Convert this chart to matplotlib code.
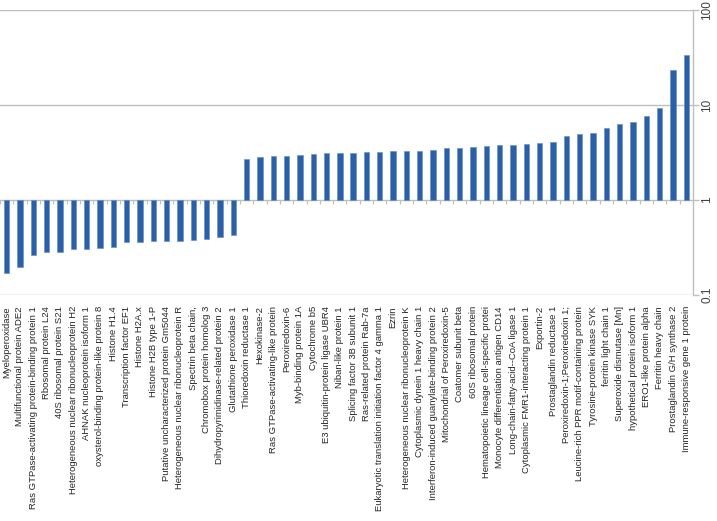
import matplotlib
matplotlib.use("Agg")
import matplotlib.pyplot as plt
from matplotlib.ticker import FixedLocator, FixedFormatter, NullLocator

proteins = [
    "Myeloperoxidase", "Multifunctional protein ADE2",
    "Ras GTPase-activating protein-binding protein 1", "Rbosomal protein L24",
    "40S ribosomal protein S21", "Heterogeneous nuclear ribonucleoprotein H2",
    "AHNAK nucleoprotein isoform 1", "oxysterol-binding protein-like protein 8",
    "Histone H1.4", "Transcription factor EF1", "Histone H2A.x",
    "Histone H2B type 1-P", "Putative uncharacterized protein Gm5044",
    "Heterogeneous nuclear ribonucleoprotein R", "Spectrin beta chain,",
    "Chromobox protein homolog 3", "Dihydropyrimidinase-related protein 2",
    "Glutathione peroxidase 1", "Thioredoxin reductase 1", "Hexokinase-2",
    "Ras GTPase-activating-like protein", "Peroxiredoxin-6",
    "Myb-binding protein 1A", "Cytochrome b5",
    "E3 ubiquitin-protein ligase UBR4", "Niban-like protein 1",
    "Splicing factor 3B subunit 1", "Ras-related protein Rab-7a",
    "Eukaryotic translation initiation factor 4 gamma 1", "Ezrin",
    "Heterogeneous nuclear ribonucleoprotein K",
    "Cytoplasmic dynein 1 heavy chain 1",
    "Interferon-induced guanylate-binding protein 2",
    "Mitochondrial of Peroxiredoxin-5", "Coatomer subunit beta",
    "60S ribosomal protein", "Hematopoietic lineage cell-specific protei",
    "Monocyte differentiation antigen CD14",
    "Long-chain-fatty-acid--CoA ligase 1",
    "Cytoplasmic FMR1-interacting protein 1", "Exportin-2",
    "Prostaglandin reductase 1", "Peroxiredoxin-1;Peroxiredoxin 1;",
    "Leucine-rich PPR motif-containing protein", "Tyrosine-protein kinase SYK",
    "ferritin light chain 1", "Superoxide dismutase [Mn]",
    "hypothetical protein isoform 1", "ERO1-like protein alpha",
    "Ferritin heavy chain", "Prostaglandin G/H synthase 2",
    "Immune-responsive gene 1 protein",
]

fold_change = [
    0.172, 0.199, 0.264, 0.286, 0.286, 0.305, 0.305, 0.315, 0.323, 0.358,
    0.364, 0.370, 0.373, 0.373, 0.376, 0.385, 0.408, 0.425,
    2.70, 2.81, 2.93, 2.93, 2.98, 3.07, 3.10, 3.10, 3.15,
    3.17, 3.17, 3.28, 3.28, 3.28, 3.36, 3.50, 3.50, 3.58, 3.70, 3.82, 3.82,
    3.92, 4.01, 4.08, 4.72, 4.99, 5.11, 5.68, 6.31, 6.57, 7.66, 9.30,
    23.2, 33.9,
]

y_ticks = [0.1, 1, 10, 100]
y_tick_labels = ["0.1", "1", "10", "100"]

label_font = ["Liberation Sans", "DejaVu Sans"]

fig = plt.figure(figsize=(7.17, 5.21), dpi=100)
ax = fig.add_axes([0.0, 1 - 295 / 521, 693 / 717, 285 / 521])

n = len(proteins)
x = list(range(n))
heights = [v - 1 for v in fold_change]
ax.bar(x, heights, bottom=1, width=0.4, color="#2B60A8", edgecolor="#5E8AC6",
       linewidth=0.4, zorder=3)

ax.set_yscale("log")
ax.set_ylim(0.1, 100)
ax.set_xlim(-0.5, n - 0.5)

grid_color = "#BFBFBF"
for s in ["left", "bottom", "top"]:
    ax.spines[s].set_visible(False)
ax.spines["right"].set_color(grid_color)
ax.spines["right"].set_linewidth(1.0)

ax.yaxis.tick_right()
ax.yaxis.set_major_locator(FixedLocator(y_ticks))
ax.yaxis.set_major_formatter(FixedFormatter(y_tick_labels))
ax.yaxis.set_minor_locator(NullLocator())
ax.tick_params(axis="y", which="major", length=4, color=grid_color, width=1,
               pad=2, labelsize=8.5, labelcolor="#404040")
for lab in ax.get_yticklabels():
    lab.set_rotation(90)
    lab.set_va("center")
    lab.set_ha("left")
    lab.set_family(label_font)

for yv in [0.1, 10, 100]:
    ax.axhline(yv, color=grid_color, linewidth=1.0, zorder=1)

ax.set_xticks(x)
ax.set_xticklabels(proteins, rotation=90, fontsize=6.8, color="#262626",
                   family=label_font)
ax.tick_params(axis="x", length=0, pad=8)

sec = ax.secondary_xaxis(1 / 3)
sec.set_xticks([i + 0.5 for i in range(-1, n)])
sec.set_xticklabels([])
sec.tick_params(axis="x", direction="out", length=3, color=grid_color, width=0.8)
sec.spines["bottom"].set_color(grid_color)
sec.spines["bottom"].set_linewidth(1.0)

fig.savefig("out.png", dpi=100)
